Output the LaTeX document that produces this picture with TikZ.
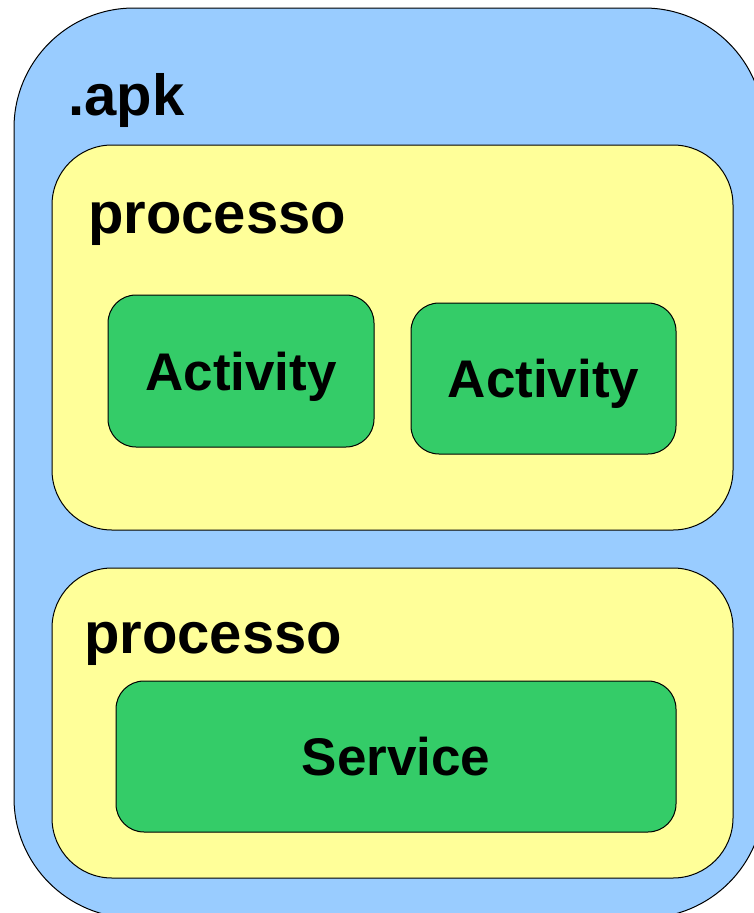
\documentclass[tikz,border=0pt]{standalone}
\usepackage{fontspec}
\setmainfont{Liberation Sans}
\definecolor{apkblue}{RGB}{153,204,255}
\definecolor{procyellow}{RGB}{255,255,153}
\definecolor{compgreen}{RGB}{52,204,104}
\tikzset{
  shell/.style={draw=black, line width=1pt, inner sep=0pt, outer sep=0pt},
  apkbox/.style={shell, fill=apkblue, rounded corners=120pt},
  procbox/.style={shell, fill=procyellow, rounded corners=60pt},
  compbox/.style={shell, fill=compgreen, rounded corners=28pt,
    font=\fontsize{53}{53}\selectfont\bfseries, text height=38pt, text depth=0pt},
  heading/.style={inner sep=0pt, anchor=base west,
    font=\fontsize{58}{58}\selectfont\bfseries}
}
\begin{document}
\begin{tikzpicture}[x=1pt,y=-1pt]
  \useasboundingbox (0,0) rectangle (754,913);
  \clip (0,0) rectangle (754,913);
  % package
  \node[apkbox, minimum width=750pt, minimum height=910pt] (apk) at (389,463) {};
  \node[heading] (apkname) at (68,115) {.apk};
  % first process
  \node[procbox, minimum width=681pt, minimum height=385pt] (procA) at (392.5,337.5) {};
  \node[heading] (procAname) at (88,233) {processo};
  \node[compbox, minimum width=266pt, minimum height=152pt] (actA) at (241,371) {Activity};
  \node[compbox, minimum width=265pt, minimum height=151pt] (actB) at (543.5,378.5) {Activity};
  % second process
  \node[procbox, minimum width=681pt, minimum height=310pt] (procB) at (392.5,723) {};
  \node[heading] (procBname) at (84,653) {processo};
  \node[compbox, minimum width=560pt, minimum height=151pt] (serv) at (396,756.5) {Service};
\end{tikzpicture}
\end{document}
